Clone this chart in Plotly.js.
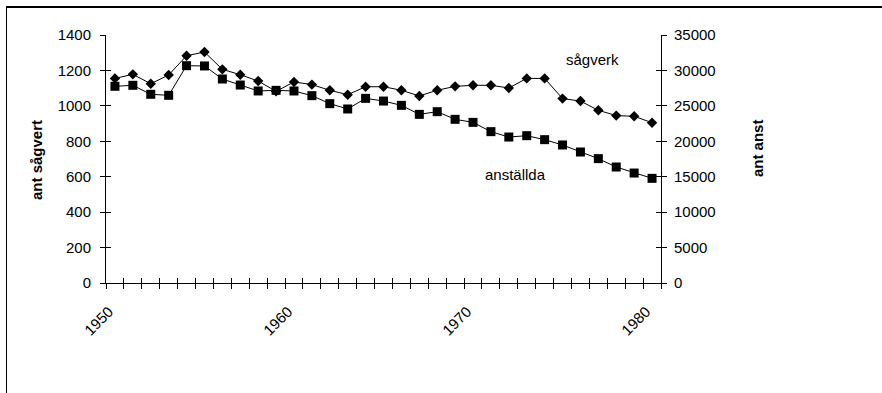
<!DOCTYPE html>
<html><head><meta charset="utf-8">
<script src="https://cdn.plot.ly/plotly-3.0.1.min.js"></script>
<style>
html,body{margin:0;padding:0;background:#fff;overflow:hidden}
#chart{position:absolute;left:0;top:0;width:882px;height:393px}
#frame{position:absolute;left:6px;top:6px;width:880px;height:400px;border-top:2px solid #000;border-left:1.5px solid #000;pointer-events:none}
</style></head>
<body><div id="chart"></div><div id="frame"></div>
<script>
const years = [1950,1951,1952,1953,1954,1955,1956,1957,1958,1959,1960,1961,1962,1963,1964,1965,1966,1967,1968,1969,1970,1971,1972,1973,1974,1975,1976,1977,1978,1979,1980];
const sagverk = [1155,1178,1125,1174,1283,1304,1206,1176,1140,1082,1135,1120,1088,1063,1108,1108,1088,1056,1088,1110,1116,1116,1101,1155,1155,1041,1027,975,945,941,905];
const anstallda = [27760,27900,26630,26490,30670,30630,28790,27940,27100,27190,27100,26440,25310,24560,26060,25680,25070,23800,24180,23100,22670,21360,20600,20790,20230,19480,18490,17550,16370,15520,14770];
const leftTicks = [0,200,400,600,800,1000,1200,1400];
const rightTicks = [0,5000,10000,15000,20000,25000,30000,35000];
const labelYears = [1950,1960,1970,1980];
const seriesNames = ['sågverk','anställda'];
const axisTitles = ['ant sågvert','ant anst'];

const bounds = years.map(y => y - 0.5).concat([years[years.length-1] + 0.5]);
const xRange = [bounds[0], bounds[bounds.length-1]];
const FONT = 'Liberation Sans, Arial, sans-serif';
const tf = {family: FONT, size: 15, color: '#000'};

// invisible helper traces so that the overlay tick axes get drawn
function ghost(xa, ya, yv) {
  return {x: years, y: yv, xaxis: xa, yaxis: ya, mode: 'lines', line: {color: 'rgba(0,0,0,0)', width: 0},
          hoverinfo: 'skip', showlegend: false};
}

const traces = [
  ghost('x2', 'y', sagverk),
  ghost('x', 'y3', sagverk),
  ghost('x', 'y4', anstallda),
  {x: years, y: sagverk, name: seriesNames[0], xaxis: 'x', yaxis: 'y', mode: 'lines+markers',
   line: {color: '#000', width: 1}, marker: {symbol: 'diamond', size: 8, color: '#000'}},
  {x: years, y: anstallda, name: seriesNames[1], xaxis: 'x', yaxis: 'y2', mode: 'lines+markers',
   line: {color: '#000', width: 1}, marker: {symbol: 'square', size: 9, color: '#000'}}
];

const common = {showgrid: false, zeroline: false, fixedrange: true};
const layout = {
  width: 882, height: 393,
  margin: {l: 106, r: 221, t: 35, b: 110, pad: 0},
  paper_bgcolor: '#fff', plot_bgcolor: '#fff',
  showlegend: false,
  font: tf,
  xaxis: Object.assign({}, common, {range: xRange, tickmode: 'array', tickvals: labelYears, ticktext: labelYears.map(String),
    tickangle: -45, ticks: '', showline: true, linecolor: '#000', linewidth: 1, tickfont: tf, ticklabelstandoff: 13, ticklabelshift: -6,
    minor: {tickmode: 'array', tickvals: bounds, ticks: 'outside', ticklen: 5, tickcolor: '#000', tickwidth: 1, showgrid: false}}),
  xaxis2: Object.assign({}, common, {overlaying: 'x', anchor: 'y', side: 'bottom', range: xRange, tickmode: 'array', tickvals: bounds,
    ticks: 'inside', ticklen: 5, tickcolor: '#000', showticklabels: false, showline: false}),
  yaxis: Object.assign({}, common, {range: [0, 1400], tickmode: 'array', tickvals: leftTicks, ticktext: leftTicks.map(String), ticks: 'outside', ticklen: 5,
    tickcolor: '#000', showline: true, linecolor: '#000', linewidth: 1, tickfont: tf, ticklabelstandoff: 6}),
  yaxis2: Object.assign({}, common, {overlaying: 'y', side: 'right', anchor: 'x', range: [0, 35000], tickmode: 'array', tickvals: rightTicks,
    ticktext: rightTicks.map(String),
    ticks: 'outside', ticklen: 5, tickcolor: '#000', showline: true, linecolor: '#000', linewidth: 1, tickfont: tf, ticklabelstandoff: 4}),
  yaxis3: Object.assign({}, common, {overlaying: 'y', side: 'left', anchor: 'x', range: [0, 1400], tickmode: 'array', tickvals: leftTicks,
    ticks: 'inside', ticklen: 5, tickcolor: '#000', showticklabels: false, showline: false}),
  yaxis4: Object.assign({}, common, {overlaying: 'y', side: 'right', anchor: 'x', range: [0, 35000], tickmode: 'array', tickvals: rightTicks,
    ticks: 'inside', ticklen: 5, tickcolor: '#000', showticklabels: false, showline: false}),
  annotations: [
    {text: '<b>' + axisTitles[0] + '</b>', xref: 'paper', yref: 'paper', x: (37-106)/555, y: 0.496, textangle: -90,
     showarrow: false, xanchor: 'center', yanchor: 'middle', font: {family: FONT, size: 15, color: '#000'}},
    {text: '<b>' + axisTitles[1] + '</b>', xref: 'paper', yref: 'paper', x: (757-106)/555, y: 0.544, textangle: -90,
     showarrow: false, xanchor: 'center', yanchor: 'middle', font: {family: FONT, size: 15, color: '#000'}},
    {text: seriesNames[0], xref: 'x', yref: 'y', x: 1976.7, y: 1259, showarrow: false, xanchor: 'center', yanchor: 'middle', font: tf},
    {text: seriesNames[1], xref: 'x', yref: 'y', x: 1972.4, y: 615, showarrow: false, xanchor: 'center', yanchor: 'middle', font: tf}
  ]
};
Plotly.newPlot('chart', traces, layout, {displayModeBar: false, staticPlot: true});
</script>
</body></html>
